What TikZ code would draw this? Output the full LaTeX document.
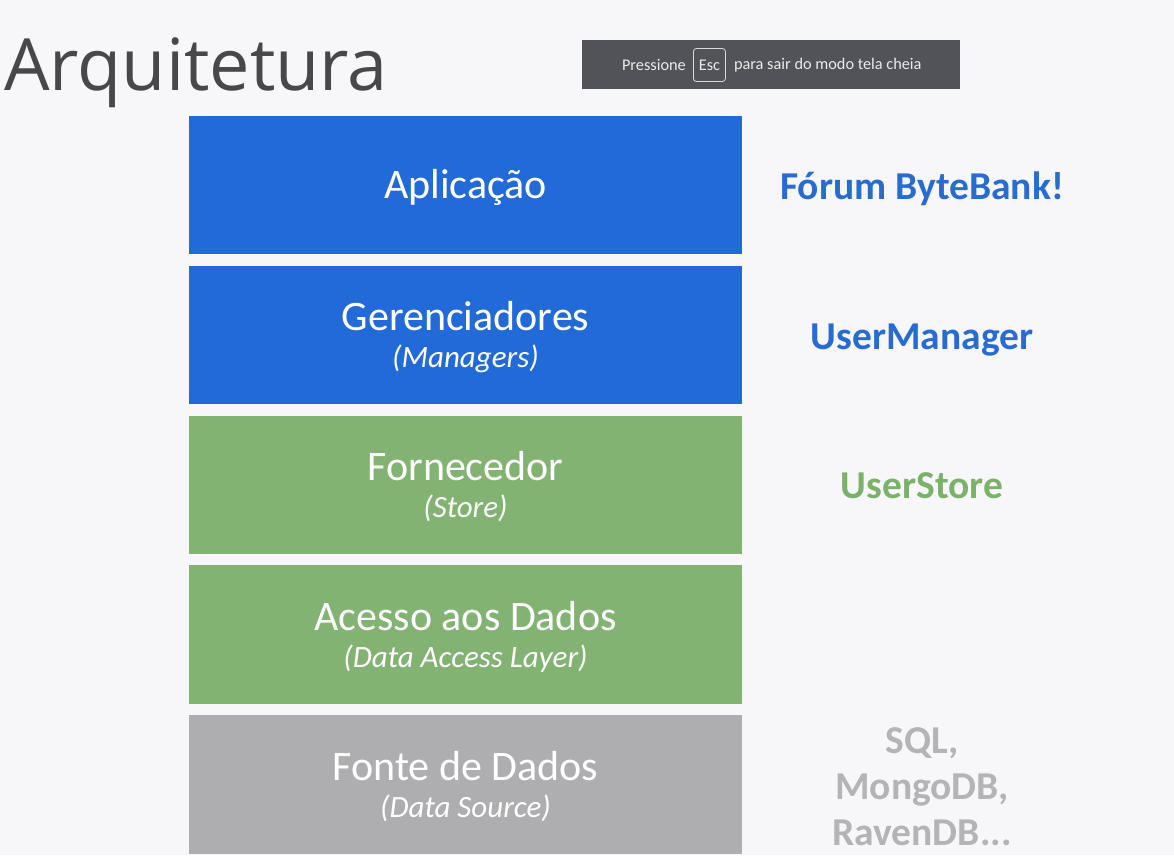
\documentclass[tikz,border=0pt]{standalone}
\usepackage{fontspec}
\setmainfont{Carlito}
\newfontfamily\titlefont{Open Sans}
\usetikzlibrary{positioning}
\definecolor{pagebg}{RGB}{247,246,249}
\definecolor{layerblue}{RGB}{35,106,217}
\definecolor{layergreen}{RGB}{130,179,115}
\definecolor{layergray}{RGB}{174,174,176}
\definecolor{tagblue}{RGB}{40,108,210}
\definecolor{taggreen}{RGB}{122,178,106}
\definecolor{taggray}{RGB}{180,180,182}
\definecolor{bargray}{RGB}{82,83,88}
\definecolor{titlegray}{RGB}{72,72,74}
\newcommand\subline[1]{{\itshape\fontsize{31}{37}\selectfont #1}}
\begin{document}
\begin{tikzpicture}[
        x=1pt, y=-1pt,
        node distance =11pt ,
        layer/.style ={minimum width=553pt, minimum height=138.5pt, inner sep=0pt, text=white, align=center, text depth=0pt, font=\fontsize{42}{37}\selectfont},
        tag/.style ={anchor=base, align=center, font=\bfseries\fontsize{39.5}{46}\selectfont},
        bartext/.style ={text=white!92!black, inner sep=0pt, font=\fontsize{16.3}{19}\selectfont},
    ]
    \fill[pagebg] (0,0) rectangle (1174,855);

    \node[anchor=base west, inner sep=0pt, text=titlegray, font=\titlefont\fontsize{72}{86}\selectfont] (title) at (4,90) {Arquitetura};

    % fullscreen banner
    \node[fill=bargray, minimum width=378pt, minimum height=49pt, inner sep=0pt] (bar) at (771,64.5) {};
    \node[bartext, anchor=east] (press) at (686,65) {Pressione};
    \node[bartext, draw=white!85!black, line width=.8pt, rounded corners=3pt, minimum width=32pt, minimum height=33pt, right=7pt of press] (esc) {Esc};
    \node[bartext, right=8pt of esc] (leave) {para sair do modo tela cheia};

    % layers
    \node[layer, fill=layerblue, text depth=3pt] (app) at (465.5,185) {Aplicação};
    \node[layer, fill=layerblue, below=of app] (mgr) {Gerenciadores\\\subline{(Managers)}};
    \node[layer, fill=layergreen, below=of mgr] (store) {Fornecedor\\\subline{(Store)}};
    \node[layer, fill=layergreen, below=of store] (dal) {Acesso aos Dados\\\subline{(Data Access Layer)}};
    \node[layer, fill=layergray, below=of dal] (src) {Fonte de Dados\\\subline{(Data Source)}};

    % examples
    \node[tag, text=tagblue] (forum) at (922,199) {Fórum ByteBank!};
    \node[tag, text=tagblue] (usermgr) at (922,349) {UserManager};
    \node[tag, text=taggreen] (userstore) at (922,498) {UserStore};
    \node[tag, text=taggray] (dbs) at (922,845) {SQL,\\MongoDB,\\RavenDB...};
\end{tikzpicture}
\end{document}
